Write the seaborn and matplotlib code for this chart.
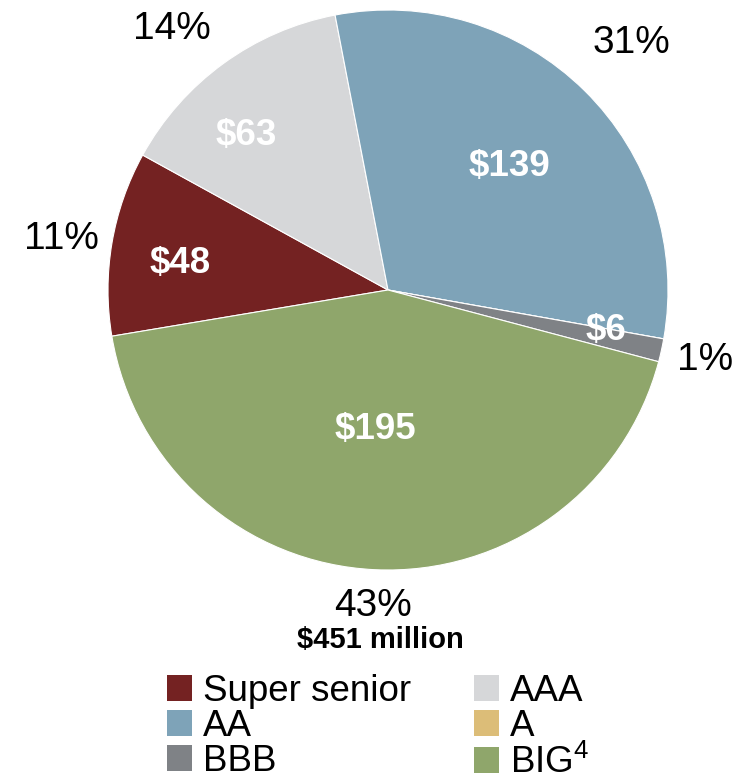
import matplotlib
matplotlib.use("Agg")
import matplotlib.pyplot as plt
from matplotlib.patches import Patch
import seaborn as sns
import numpy as np

sns.set_style("white")
plt.rcParams['font.family'] = ['Liberation Sans', 'DejaVu Sans']
plt.rcParams['text.color'] = 'black'
plt.rcParams['mathtext.fontset'] = 'custom'
plt.rcParams['mathtext.rm'] = 'Liberation Sans'

# data ($ millions)
ratings = ["Super senior", "AAA", "AA", "A", "BBB", "BIG"]
values = [48, 63, 139, 0, 6, 195]
pct_labels = ["11%", "14%", "31%", "", "1%", "43%"]
total_label = "$451 million"

colors = ["#742222", "#d6d7d9", "#7ea3b8", "#dcbd78", "#7f8286", "#8fa66b"]
# label spots: radius factors and small angle nudges (degrees)
inner_r = [0.75, 0.75, 0.62, 0.6, 0.79, 0.5]
inner_shift = [2.5, 6.5, 0, 0, 2, -2.5]
outer_r = [1.18, 1.21, 1.24, 1.2, 1.16, 1.13]
outer_shift = [0.7, 3.5, 0, 0, 0, 0]

fig = plt.figure(figsize=(7.41, 7.82), dpi=100)
ax = fig.add_axes([0, 0, 1, 1])

wedges, _ = ax.pie(values, colors=colors, startangle=189.5, counterclock=False,
                   radius=1, wedgeprops=dict(edgecolor="white", linewidth=0.8))

for w, v, p, ri, si, ro, so in zip(wedges, values, pct_labels, inner_r, inner_shift,
                                   outer_r, outer_shift):
    if v == 0:
        continue
    mid = (w.theta1 + w.theta2) / 2
    a1 = np.deg2rad(mid + si)
    a2 = np.deg2rad(mid + so)
    ax.text(ri * np.cos(a1), ri * np.sin(a1), "\\$" + str(v),
            ha="center", va="center", fontsize=26.5, fontweight="bold", color="white")
    ax.text(ro * np.cos(a2), ro * np.sin(a2), p,
            ha="center", va="center", fontsize=28, color="black")

# place pie: centre at (388, 290) px, radius 280 px
ax.set_xlim(-388 / 280, (741 - 388) / 280)
ax.set_ylim(-(782 - 290) / 280, 290 / 280)
ax.set_aspect("equal")
ax.axis("off")

fig.text(380 / 741, 1 - 640 / 782, total_label.replace("$", "\\$"),
         ha="center", va="center", fontsize=21, fontweight="bold")

legend_names = list(ratings)
legend_names[5] = r"BIG$^{\mathrm{4}}$"
handles = [Patch(facecolor=c, edgecolor="none") for c in colors]
order = [0, 2, 4, 1, 3, 5]
fig.legend([handles[i] for i in order], [legend_names[i] for i in order],
           ncol=2, loc="upper left", bbox_to_anchor=(167 / 741, 1 - 674 / 782),
           frameon=False, fontsize=26.5, handlelength=0.68, handleheight=0.68,
           handletextpad=0.3, columnspacing=1.7, labelspacing=0.0,
           borderpad=0, borderaxespad=0)

fig.savefig("out.png", dpi=100)
